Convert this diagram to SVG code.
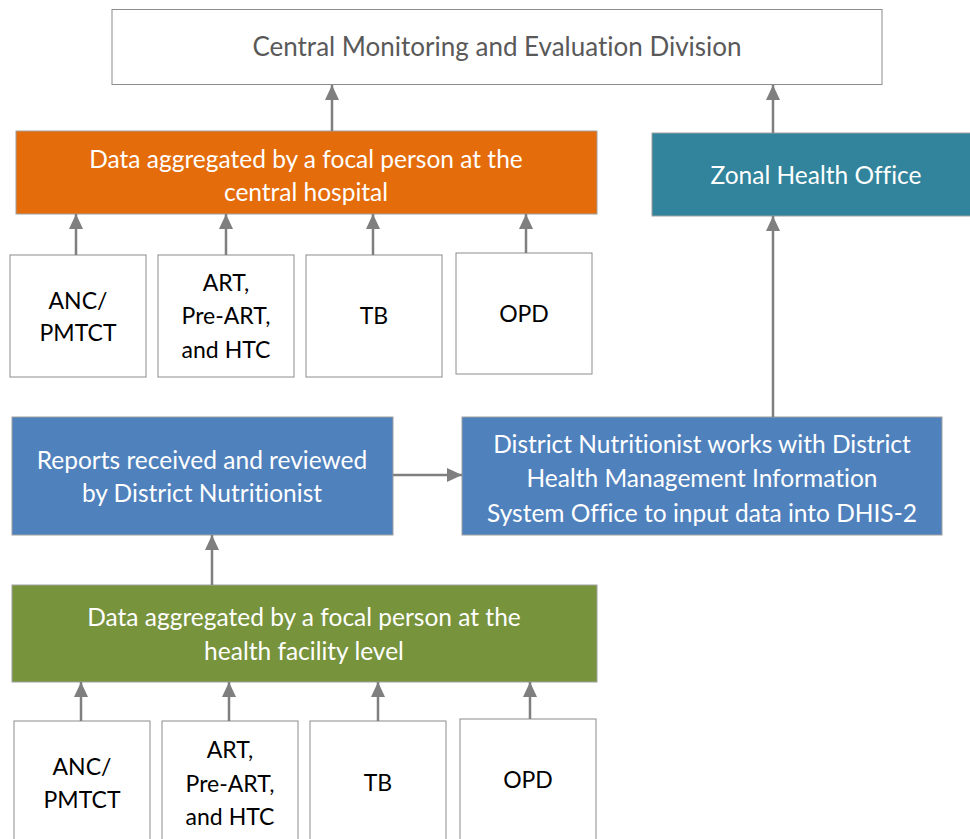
<svg xmlns="http://www.w3.org/2000/svg" width="970" height="839" viewBox="0 0 970 839">
<defs>
<marker id="ah" markerWidth="15" markerHeight="14" refX="15" refY="7" orient="auto" markerUnits="userSpaceOnUse" viewBox="0 0 15 14">
<path d="M0,0 L15,7 L0,14 Z" fill="#7f7f7f"/>
</marker>
<style>
text{font-family:Lato,"Liberation Sans",sans-serif;font-size:24.5px;text-anchor:middle;font-variant-ligatures:none;font-feature-settings:"liga" 0,"dlig" 0}
.w{fill:#fff;stroke:#8c8c8c;stroke-width:1}
.c{stroke:#a0a0a0;stroke-width:1}
.lt{fill:#fff}
.dk{fill:#000;font-size:23px}
.conn line{stroke:#7f7f7f;stroke-width:2.5;marker-end:url(#ah)}
</style>
</defs>
<rect width="970" height="839" fill="#fff"/>
<g id="central">
<rect class="w" x="112" y="9.5" width="770" height="75"/>
<text x="497" y="56" fill="#595959" style="font-size:26px">Central Monitoring and Evaluation Division</text>
</g>
<g id="hospital">
<rect class="c" x="16" y="131" width="581" height="83" fill="#E46C0A"/>
<text class="lt" x="306" y="168">Data aggregated by a focal person at the</text>
<text class="lt" x="306" y="201">central hospital</text>
</g>
<g id="zonal">
<rect class="c" x="652" y="133" width="320" height="83" fill="#31849B"/>
<text class="lt" x="816" y="184">Zonal Health Office</text>
</g>
<g id="h-anc">
<rect class="w" x="10" y="255" width="136" height="122"/>
<text class="dk" x="78" y="309">ANC/</text>
<text class="dk" x="78" y="341">PMTCT</text>
</g>
<g id="h-art">
<rect class="w" x="158" y="255" width="136" height="122"/>
<text class="dk" x="226" y="291">ART,</text>
<text class="dk" x="226" y="324">Pre-ART,</text>
<text class="dk" x="226" y="358">and HTC</text>
</g>
<g id="h-tb">
<rect class="w" x="306" y="255" width="136" height="122"/>
<text class="dk" x="374" y="324">TB</text>
</g>
<g id="h-opd">
<rect class="w" x="456" y="253" width="136" height="121"/>
<text class="dk" x="524" y="322">OPD</text>
</g>
<g id="reports">
<rect class="c" x="12" y="417" width="381" height="118" fill="#4F81BD"/>
<text class="lt" x="202" y="469">Reports received and reviewed</text>
<text class="lt" x="202" y="502">by District Nutritionist</text>
</g>
<g id="dhis">
<rect class="c" x="462" y="417" width="480" height="118" fill="#4F81BD"/>
<text class="lt" x="702" y="453">District Nutritionist works with District</text>
<text class="lt" x="702" y="487">Health Management Information</text>
<text class="lt" x="702" y="522">System Office to input data into DHIS-2</text>
</g>
<g id="facility">
<rect class="c" x="12" y="585" width="585" height="97" fill="#77933C"/>
<text class="lt" x="304" y="626">Data aggregated by a focal person at the</text>
<text class="lt" x="304" y="660">health facility level</text>
</g>
<g id="f-anc">
<rect class="w" x="14" y="721" width="136" height="130"/>
<text class="dk" x="82" y="775">ANC/</text>
<text class="dk" x="82" y="808">PMTCT</text>
</g>
<g id="f-art">
<rect class="w" x="162" y="721" width="136" height="130"/>
<text class="dk" x="230" y="758">ART,</text>
<text class="dk" x="230" y="792">Pre-ART,</text>
<text class="dk" x="230" y="825">and HTC</text>
</g>
<g id="f-tb">
<rect class="w" x="310" y="721" width="136" height="130"/>
<text class="dk" x="378" y="791">TB</text>
</g>
<g id="f-opd">
<rect class="w" x="460" y="719" width="136" height="130"/>
<text class="dk" x="528" y="788">OPD</text>
</g>
<g class="conn" id="connectors">
<line x1="332" y1="131" x2="332" y2="85"/>
<line x1="773" y1="133" x2="773" y2="85"/>
<line x1="76" y1="255" x2="76" y2="214"/>
<line x1="226" y1="255" x2="226" y2="214"/>
<line x1="373" y1="255" x2="373" y2="214"/>
<line x1="526" y1="253" x2="526" y2="214"/>
<line x1="773" y1="417" x2="773" y2="216"/>
<line x1="393" y1="475" x2="462" y2="475"/>
<line x1="212" y1="585" x2="212" y2="535"/>
<line x1="81" y1="721" x2="81" y2="682"/>
<line x1="229" y1="721" x2="229" y2="682"/>
<line x1="378" y1="721" x2="378" y2="682"/>
<line x1="530" y1="719" x2="530" y2="682"/>
</g>
</svg>
